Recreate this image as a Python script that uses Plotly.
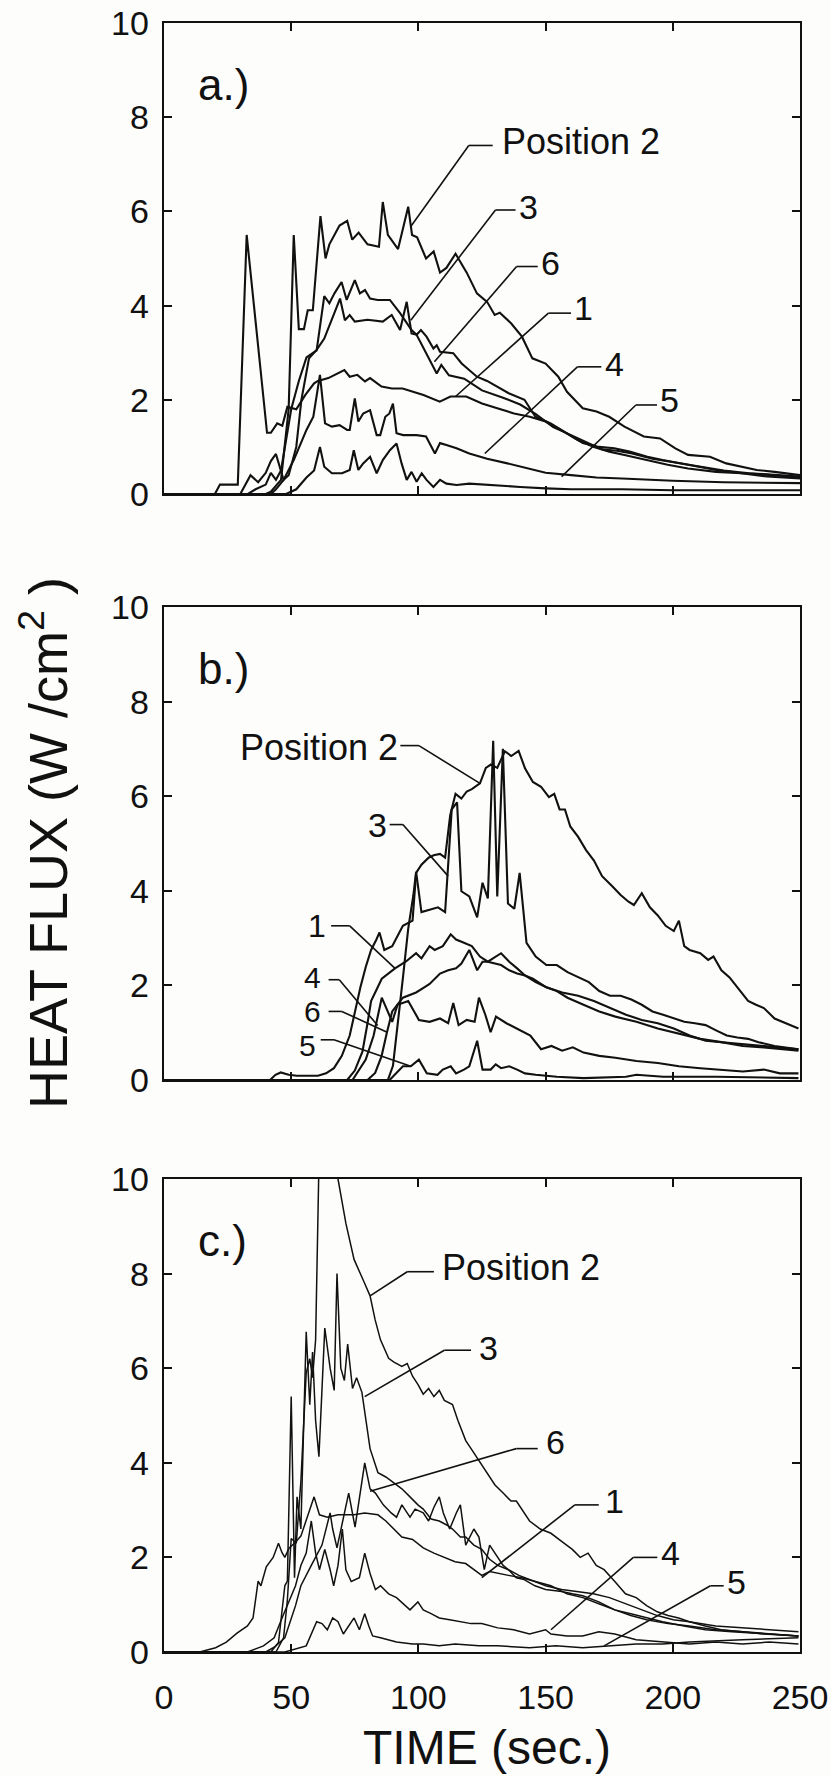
import plotly.graph_objects as go

FONT = "Liberation Sans, Arial, Helvetica, sans-serif"

# ---------------- Panel a ----------------
a_pos2_t = [0, 40, 42, 46, 49, 51, 53, 55, 56.5, 58.5, 61.5, 63.5, 65, 69, 72, 74, 76.5, 80, 84.5, 86, 88, 92, 96, 97.5, 99.5,
            103, 106, 108.5, 111, 114.6, 119, 123, 127, 130, 132, 136.5, 140.7, 144.8, 150, 155, 158.4, 164.6, 170, 175,
            181, 188.6, 195, 201, 206, 214.6, 221, 227, 233, 240, 244, 250]
a_pos2_v = [0, 0, 0.05, 0.3, 1.8, 5.5, 3.5, 3.5, 3.9, 3.9, 5.9, 5.0, 5.3, 5.7, 5.8, 5.4, 5.55, 5.3, 5.25, 6.2, 5.5, 5.2, 6.1, 5.5, 5.45,
            5.0, 5.15, 4.7, 4.8, 5.1, 4.7, 4.26, 4.08, 3.8, 3.85, 3.62, 3.34, 2.88, 2.77, 2.49, 2.17, 1.82, 1.75, 1.64,
            1.43, 1.22, 1.18, 0.97, 0.83, 0.79, 0.65, 0.58, 0.51, 0.47, 0.44, 0.4]

a_p3_t = [0, 33, 36, 40, 42, 44, 46, 48, 50, 53, 56, 60, 63, 65, 67, 69.8, 71.8, 75, 77, 79, 81, 84, 88.8, 92.8, 97.3, 99.3,
          101, 103.2, 105.9, 107.2, 108.5, 113.7, 117, 123, 127, 135.5, 141.7, 146, 152, 160.5, 164.6, 171, 177, 183, 190,
          196, 206, 217, 227, 237, 250]
a_p3_v = [0, 0, 0.1, 0.2, 0.45, 0.3, 0.5, 1.2, 1.8, 2.4, 2.9, 3.05, 4.2, 4.05, 4.26, 4.5, 4.12, 4.54, 4.26, 4.33, 4.15, 4.12, 4.12,
          3.84, 3.48, 3.38, 3.48, 3.34, 3.09, 3.16, 3.02, 2.99, 2.77, 2.49, 2.4, 2.14, 2.0, 1.64, 1.5, 1.22, 1.08, 1.0, 0.97,
          0.9, 0.79, 0.72, 0.62, 0.51, 0.44, 0.42, 0.37]

a_p6_t = [0, 30, 34, 37, 40, 42, 44, 45.5, 47, 49, 52, 54, 57, 60, 63, 69.2, 71.1, 73, 75, 80, 86, 89.5, 92.8, 95.4, 97.3, 99.3,
          103.2, 106, 107.2, 109, 112, 118, 125, 133, 140, 146, 153, 160, 166, 172, 178, 184, 192, 200, 210, 220, 230, 240, 250]
a_p6_v = [0, 0, 0.4, 0.25, 0.45, 0.7, 0.85, 0.6, 0.3, 0.4, 1.0, 2.0, 2.88, 3.06, 3.3, 4.15, 3.69, 3.8, 3.66, 3.7, 3.66, 3.8, 3.48,
          4.08, 3.41, 3.38, 2.99, 2.7, 2.56, 2.74, 2.52, 2.45, 2.2, 2.05, 1.9, 1.7, 1.42, 1.25, 1.1, 0.95, 0.92, 0.86, 0.75,
          0.68, 0.58, 0.5, 0.44, 0.4, 0.35]

a_p1_t = [0, 20, 22, 29, 32.5, 40.5, 42, 44.5, 46.5, 48.5, 52, 55.5, 59, 60.5, 64.6, 70.9, 73, 76, 79, 81, 85.5, 89.6, 93.8, 98,
          102, 108.4, 112.6, 118.8, 125, 131, 137.6, 143.8, 150, 156, 162.5, 169, 175, 181, 190, 198, 206, 217, 227, 237, 250]
a_p1_v = [0, 0, 0.2, 0.2, 5.5, 1.3, 1.3, 1.5, 1.45, 1.85, 1.8, 2.1, 2.35, 2.4, 2.46, 2.63, 2.49, 2.53, 2.39, 2.46, 2.28, 2.24, 2.24,
          2.17, 2.1, 1.96, 2.07, 2.07, 1.92, 1.82, 1.71, 1.64, 1.54, 1.36, 1.15, 1.0, 0.9, 0.83, 0.72, 0.62, 0.54, 0.47,
          0.44, 0.37, 0.33]

a_p4_t = [0, 42, 44, 47, 51, 56, 58.7, 61.3, 63.3, 66, 69, 72, 73, 75, 76.4, 78.3, 81, 83.6, 85, 87, 88.6, 90, 91.4, 94, 99.3,
          103, 106.5, 108.5, 111, 115, 120, 127, 135, 142, 150, 160, 170, 180, 190, 200, 220, 250]
a_p4_v = [0, 0, 0.1, 0.3, 0.72, 1.36, 1.64, 2.53, 1.5, 1.43, 1.46, 1.36, 1.36, 2.03, 1.54, 1.71, 1.78, 1.25, 1.25, 1.64, 1.71,
          1.92, 1.29, 1.25, 1.25, 1.22, 0.86, 1.08, 1.04, 0.97, 0.86, 0.75, 0.65, 0.55, 0.45, 0.4, 0.35, 0.33, 0.3, 0.28,
          0.25, 0.23]

a_p5_t = [0, 48, 52, 56, 59, 61.3, 63, 66, 70, 73, 74.6, 76.4, 78.3, 81, 83.6, 86, 88.8, 91.4, 93.4, 95.4, 97.3, 99.3, 101.3,
          103.2, 105.9, 108.5, 111, 115, 120, 130, 140, 150, 160, 180, 200, 250]
a_p5_v = [0, 0, 0.1, 0.35, 0.5, 1.0, 0.58, 0.44, 0.44, 0.51, 0.93, 0.51, 0.65, 0.79, 0.44, 0.72, 0.93, 1.07, 0.65, 0.3, 0.47,
          0.26, 0.44, 0.3, 0.15, 0.3, 0.22, 0.19, 0.22, 0.18, 0.15, 0.12, 0.1, 0.1, 0.08, 0.08]

# ---------------- Panel b ----------------
b_pos2_t = [0, 41.7, 43.8, 45.9, 49, 52.2, 60.5, 63.7, 66.8, 69.9, 73, 75.1, 77.2, 79.3, 81.4, 83.5, 84.7, 86.6, 89.7, 93.9,
            96, 97.7, 99.1, 101.2, 104, 106, 108.5, 110.5, 112.5, 114.6, 116.9, 119, 121, 124.2, 126.5, 128.5, 131, 134,
            136.5, 139.4, 141.9, 145, 148.2, 151.3, 153.4, 155.5, 157.6, 159.7, 162.8, 165.9, 169, 172.2, 176.3, 179.5,
            182.6, 184.7, 187.8, 191, 194.1, 197.2, 200.4, 202.4, 204.5, 206.6, 210.8, 213.9, 216, 219.1, 222.3, 225.4,
            229.6, 232.7, 235.8, 240, 244.2, 249.4]
b_pos2_v = [0, 0, 0.11, 0.16, 0.11, 0.09, 0.09, 0.14, 0.25, 0.51, 0.94, 1.45, 1.96, 2.39, 2.75, 2.97, 3.12, 2.75, 2.83, 3.26,
            3.33, 3.37, 4.38, 4.55, 4.7, 4.75, 4.78, 4.7, 5.6, 6.05, 5.95, 6.1, 6.15, 6.27, 6.6, 6.67, 6.6, 6.95,
            6.85, 6.96, 6.59, 6.3, 6.2, 5.98, 6.05, 5.72, 5.72, 5.36, 5.14, 4.86, 4.64, 4.31, 4.09, 3.91,
            3.77, 3.7, 3.95, 3.65, 3.48, 3.26, 3.15, 3.37, 2.83, 2.75, 2.68, 2.54, 2.61, 2.32, 2.17, 1.96,
            1.67, 1.59, 1.52, 1.3, 1.2, 1.09]

b_p3_t = [0, 88, 90, 92, 94, 96, 98, 99.1, 101.2, 104.4, 107.7, 110.5, 113.1, 115.2, 116.9, 120, 123.1, 125.2, 127.3, 129.4,
          131, 133.2, 135.2, 137.7, 139.8, 142.5, 146.1, 150.3, 154.4, 158.6, 162.8, 167, 171.1, 175.3, 179.5, 183.7,
          187.8, 192, 196.2, 200.4, 204.5, 208.7, 212.9, 217, 221.2, 225.4, 229.6, 233.7, 240, 249.4]
b_p3_v = [0, 0, 0.3, 1.2, 2.2, 3.2, 3.9, 4.4, 3.55, 3.6, 3.65, 3.55, 5.72, 5.87, 3.99, 3.88, 3.44, 4.17, 3.84, 7.17,
          3.88, 7.0, 3.73, 3.62, 4.38, 2.9, 2.61, 2.43, 2.43, 2.28, 2.17, 2.07, 1.88, 1.78, 1.78, 1.7,
          1.59, 1.45, 1.38, 1.3, 1.23, 1.2, 1.16, 1.05, 0.94, 0.9, 0.87, 0.8, 0.72, 0.65]

b_p1_t = [0, 72, 75, 78, 80, 81.4, 85.6, 90.8, 95, 99.1, 101.2, 104.4, 106.4, 109.6, 112.7, 114.8, 117.9, 121, 124.2, 127.3,
          132.5, 135.7, 138.8, 141.9, 145, 150.3, 154.4, 158.6, 164.9, 171.1, 177.4, 185.7, 194.1, 202.4, 210.8, 219.1,
          227.5, 235.8, 249.4]
b_p1_v = [0, 0, 0.2, 0.6, 1.2, 1.67, 2.14, 2.36, 2.5, 2.68, 2.57, 2.83, 2.75, 2.83, 3.08, 2.97, 2.9, 2.83, 2.61, 2.5,
          2.43, 2.32, 2.25, 2.21, 2.14, 1.96, 1.88, 1.74, 1.59, 1.45, 1.34, 1.23, 1.09, 0.98, 0.87, 0.8,
          0.72, 0.69, 0.62]

b_p6_t = [0, 80, 83, 85.5, 87.6, 89.7, 93.9, 99.1, 102.3, 104.4, 108.5, 111.7, 114.8, 116.9, 120, 123.1, 125.2, 127.3, 132.5,
          135.7, 138.8, 141.9, 146.1, 150.3, 156.5, 162.8, 169, 175.3, 181.6, 187.8, 194.1, 200.4, 206.6, 212.9, 219.1,
          227.5, 235.8, 249.4]
b_p6_v = [0, 0, 0.15, 0.5, 1.0, 1.45, 1.74, 1.85, 1.96, 2.03, 2.25, 2.32, 2.36, 2.46, 2.75, 2.32, 2.5, 2.5, 2.68,
          2.5, 2.36, 2.21, 2.07, 1.96, 1.85, 1.78, 1.67, 1.52, 1.38, 1.27, 1.2, 1.09, 0.94, 0.83, 0.8,
          0.76, 0.72, 0.65]

b_p4_t = [0, 74.1, 79.3, 82.4, 85.6, 89.7, 91.8, 96, 100.2, 104.4, 108.5, 111.7, 113.7, 115.8, 119, 122.1, 123.8, 126.3, 128.4,
          130.5, 134.6, 138.8, 144, 148.2, 152.3, 156.5, 160.7, 164.9, 171.1, 177.4, 185.7, 194.1, 202.4, 210.8, 219.1,
          227.5, 235.8, 242.1, 249.4]
b_p4_v = [0, 0, 0.43, 0.94, 1.74, 1.23, 1.59, 1.67, 1.27, 1.23, 1.3, 1.2, 1.63, 1.16, 1.27, 1.23, 1.74, 1.38, 1.01,
          1.34, 1.2, 1.09, 0.94, 0.65, 0.72, 0.62, 0.69, 0.58, 0.51, 0.47, 0.4, 0.36, 0.29, 0.25, 0.22,
          0.18, 0.22, 0.14, 0.14]

b_p5_t = [0, 88.7, 93.9, 97, 100.2, 103.3, 107.5, 109.6, 112.7, 114.8, 117.9, 120, 123.1, 125.2, 128.4, 130.4, 132.5, 135.7,
          138.8, 141.9, 146.1, 154.4, 164.9, 181.6, 185.7, 196.2, 217, 249.4]
b_p5_v = [0, 0, 0.29, 0.29, 0.43, 0.14, 0.11, 0.22, 0.29, 0.14, 0.22, 0.29, 0.83, 0.22, 0.22, 0.33, 0.25, 0.29,
          0.22, 0.14, 0.11, 0.07, 0.04, 0.07, 0.11, 0.07, 0.07, 0.04]

# ---------------- Panel c ----------------
c_pos2_t = [0, 44, 47, 48.5, 50, 52, 53.8, 55.9, 57.3, 58.4, 59.6, 61, 64.5, 68.4, 71.5, 74.7, 78.9, 81, 83, 85.1, 88.3, 90.4,
            93.5, 95.6, 97.7, 99.8, 101.9, 104, 106.1, 108.2, 110.2, 113.4, 115.5, 118.6, 120.7, 123.8, 127, 130.1, 133.3,
            136.4, 138.5, 140.6, 143.7, 147.9, 152.1, 156.3, 160.5, 163.6, 166.7, 169.9, 173, 177.2, 181.4, 185.6, 189.7,
            193.9, 198.1, 202.3, 206.5, 212.8, 219, 227.4, 235.8, 249.4]
c_pos2_v = [0, 0, 0.3, 1.1, 2.4, 2.3, 3.6, 5.9, 6.2, 5.8, 6.6, 10.6, 11.0, 10.0, 9.06, 8.3, 7.79, 7.53, 7.02, 6.6, 6.21, 6.13,
            6.04, 6.1, 5.83, 5.66, 5.45, 5.57, 5.4, 5.53, 5.32, 5.23, 4.9, 4.47, 4.3, 4.04, 3.79, 3.53, 3.36,
            3.19, 3.19, 3.02, 2.77, 2.6, 2.51, 2.34, 2.17, 2.0, 2.09, 1.83, 1.74, 1.49, 1.23, 1.15, 0.98,
            0.85, 0.77, 0.72, 0.64, 0.55, 0.47, 0.43, 0.38, 0.34]

c_p3_t = [0, 42, 45, 47.5, 48.5, 50, 51.3, 52.3, 53.8, 55.9, 57.3, 58.4, 59.6, 60.9, 63.2, 65.3, 66.9, 68, 69.5, 70.9, 72.2,
          74.1, 75.7, 77.8, 81, 84.1, 87.2, 90.4, 93.5, 96.7, 99.8, 101.9, 105, 108.2, 111.3, 113.4, 116.5, 118.6, 121.8,
          124.9, 128, 131.2, 135.4, 139.5, 143.7, 150, 156.3, 162.5, 168.8, 175.1, 181.4, 187.7, 193.9, 200.2, 206.5,
          216.9, 227.4, 235.8, 249.4]
c_p3_v = [0, 0, 0.2, 1.4, 1.5, 5.4, 1.57, 3.28, 2.6, 6.77, 5.23, 6.34, 4.89, 4.13, 6.85, 6.0, 5.53, 8.0, 6.0, 5.74, 6.51,
          5.57, 5.8, 5.49, 4.3, 3.79, 3.7, 3.57, 3.45, 3.28, 3.11, 3.02, 2.81, 2.77, 2.68, 2.6, 2.43, 2.43, 2.26,
          2.17, 1.96, 1.83, 1.74, 1.62, 1.53, 1.4, 1.32, 1.28, 1.23, 1.15, 1.02, 0.89, 0.77, 0.68, 0.64,
          0.55, 0.51, 0.47, 0.43]

c_p6_t = [0, 40, 43.3, 47.5, 51.7, 53.8, 57.9, 62.1, 65.3, 66.3, 68, 70.5, 72.6, 75.1, 76.8, 78.9, 81, 83.1, 86.2, 89.3, 91.4,
          93.5, 96.7, 98.7, 101.9, 104, 106.1, 108.2, 109.8, 112.3, 114.9, 116.5, 118.6, 121.8, 123.8, 125.9, 128, 130.1,
          133.3, 135.4, 138.5, 141.6, 145.8, 150, 156.3, 160.5, 164.6, 170.9, 177.2, 183.5, 189.7, 198.1, 206.5, 216.9,
          227.4, 249.4]
c_p6_v = [0, 0, 0.1, 0.3, 0.98, 1.4, 1.83, 2.26, 2.94, 2.6, 2.2, 2.85, 3.36, 2.64, 3.28, 4.0, 3.45, 3.36, 3.11, 2.94, 2.85,
          3.11, 2.85, 3.02, 2.94, 2.77, 3.06, 3.28, 2.94, 2.6, 2.94, 3.11, 2.26, 2.6, 2.43, 1.74, 2.26, 2.09,
          1.83, 1.74, 1.57, 1.53, 1.4, 1.32, 1.28, 1.23, 1.19, 1.06, 0.89, 0.77, 0.68, 0.6, 0.55, 0.47,
          0.43, 0.34]

c_p1_t = [0, 14, 20.3, 24.5, 28.7, 32.8, 35, 37, 38.1, 40.2, 42.9, 45, 46.4, 47.5, 49.2, 51.3, 53.8, 56.9, 59, 61.1, 64.2,
          68.4, 72.6, 74.7, 78.9, 84.1, 87.2, 90.4, 93.5, 97.7, 101.9, 106.1, 110.2, 114.4, 118.6, 124.9, 128, 131.2,
          135.4, 140.6, 145.8, 152.1, 158.4, 164.6, 170.9, 177.2, 183.5, 189.7, 196, 204.4, 212.8, 223.2, 235.8, 249.4]
c_p1_v = [0, 0, 0.09, 0.21, 0.4, 0.55, 0.72, 1.5, 1.4, 1.8, 2.0, 2.3, 2.1, 2.0, 2.2, 2.3, 2.45, 2.94, 3.28, 2.9, 2.85,
          2.9, 2.9, 2.9, 2.94, 2.9, 2.77, 2.6, 2.43, 2.38, 2.2, 2.09, 2.0, 1.91, 1.87, 1.62, 1.7, 1.66,
          1.62, 1.57, 1.49, 1.4, 1.23, 1.15, 1.02, 0.89, 0.81, 0.72, 0.64, 0.55, 0.47, 0.43, 0.38, 0.34]

c_p4_t = [0, 32.8, 39.1, 43.3, 46.4, 49.6, 51.7, 53.8, 55.9, 57.9, 59.6, 61.1, 63.2, 65.3, 66.7, 68.4, 70.1, 71.5, 73.6, 76.8,
          78.9, 81, 83.1, 85.1, 88.3, 91.4, 94.6, 96.7, 99.8, 101.9, 105, 108.2, 112.3, 116.5, 120.7, 124.9, 131.2, 137.4,
          143.7, 150, 152.1, 158.4, 164.6, 170.9, 177.2, 185.6, 196, 206.5, 216.9, 227.4, 237.9, 249.4]
c_p4_v = [0, 0, 0.13, 0.3, 0.72, 1.15, 1.4, 1.83, 2.09, 2.77, 2.09, 1.74, 2.17, 1.74, 1.4, 1.83, 2.6, 1.74, 1.49, 1.57,
          2.09, 1.66, 1.32, 1.4, 1.23, 1.15, 0.98, 0.89, 1.06, 0.89, 0.81, 0.72, 0.68, 0.64, 0.6, 0.6, 0.51, 0.47,
          0.38, 0.47, 0.38, 0.34, 0.34, 0.43, 0.38, 0.26, 0.21, 0.17, 0.21, 0.17, 0.21, 0.17]

c_p5_t = [0, 47.5, 55.9, 60, 62.1, 64.2, 66.3, 68.4, 70.5, 72.6, 74.7, 76.8, 78.9, 80.5, 82, 85.1, 91.4, 97.7, 101.9, 108.2,
          114.4, 123.8, 131.2, 143.7, 154, 164.6, 175.1, 185.6, 196, 206.5, 227.4, 249.4]
c_p5_v = [0, 0, 0.13, 0.64, 0.6, 0.47, 0.72, 0.64, 0.38, 0.55, 0.72, 0.47, 0.81, 0.55, 0.34, 0.3, 0.21, 0.17, 0.17, 0.13,
          0.17, 0.13, 0.13, 0.09, 0.13, 0.09, 0.13, 0.17, 0.17, 0.21, 0.26, 0.3]

# ---------------- Labels: (text, text_x, text_y, anchor, dash_x0, dash_x1, dash_y, end_x, end_y, font) ----------------
a_labels = [
    ("Position 2", 132.5, 7.48, "left", 119.8, 129.2, 7.40, 97.0, 5.68, 36),
    ("3", 139.0, 6.10, "left", 130.3, 138.2, 6.03, 97.0, 3.69, 34),
    ("6", 147.8, 4.90, "left", 138.6, 146.9, 4.83, 106.3, 2.81, 34),
    ("1", 160.8, 3.94, "left", 151.1, 160.0, 3.84, 114.6, 2.07, 34),
    ("4", 172.8, 2.77, "left", 162.5, 171.9, 2.70, 126.1, 0.86, 34),
    ("5", 194.6, 2.00, "left", 185.5, 193.8, 1.89, 156.3, 0.37, 34),
]
b_labels = [
    ("Position 2", 92.4, 7.03, "right", 92.9, 100.2, 7.07, 124.2, 6.27, 36),
    ("3", 88.0, 5.40, "right", 88.7, 93.9, 5.40, 111.7, 4.31, 34),
    ("1", 64.0, 3.26, "right", 65.7, 73.0, 3.26, 90.8, 2.36, 32),
    ("4", 62.0, 2.17, "right", 64.7, 68.9, 2.12, 84.0, 1.15, 30),
    ("6", 62.0, 1.45, "right", 64.7, 69.9, 1.45, 87.7, 1.01, 30),
    ("5", 60.0, 0.73, "right", 61.6, 66.8, 0.85, 97.0, 0.29, 30),
]
c_labels = [
    ("Position 2", 109.0, 8.13, "left", 95.6, 106.1, 8.04, 81.0, 7.53, 36),
    ("3", 123.6, 6.43, "left", 110.2, 120.7, 6.38, 78.9, 5.40, 34),
    ("6", 149.8, 4.43, "left", 138.5, 146.9, 4.30, 81.0, 3.40, 34),
    ("1", 172.8, 3.19, "left", 161.5, 170.9, 3.11, 124.9, 1.57, 34),
    ("4", 194.8, 2.09, "left", 184.5, 193.9, 2.00, 152.1, 0.47, 34),
    ("5", 220.8, 1.49, "left", 214.8, 220.0, 1.40, 173.0, 0.13, 34),
]
panel_letters = ["a.)", "b.)", "c.)"]
x_ticks = [0, 50, 100, 150, 200, 250]
y_ticks = [0, 2, 4, 6, 8, 10]

panels = [
    ("x", "y", [(a_pos2_t, a_pos2_v), (a_p3_t, a_p3_v), (a_p6_t, a_p6_v), (a_p1_t, a_p1_v), (a_p4_t, a_p4_v), (a_p5_t, a_p5_v)], a_labels, 2.1),
    ("x2", "y2", [(b_pos2_t, b_pos2_v), (b_p3_t, b_p3_v), (b_p6_t, b_p6_v), (b_p1_t, b_p1_v), (b_p4_t, b_p4_v), (b_p5_t, b_p5_v)], b_labels, 2.1),
    ("x3", "y3", [(c_pos2_t, c_pos2_v), (c_p3_t, c_p3_v), (c_p6_t, c_p6_v), (c_p1_t, c_p1_v), (c_p4_t, c_p4_v), (c_p5_t, c_p5_v)], c_labels, 1.5),
]

W, H = 831, 1776
x_dom = [164 / W, 800 / W]
y_doms = [[1 - 494 / H, 1 - 23 / H], [1 - 1080 / H, 1 - 607 / H], [1 - 1652 / H, 1 - 1179 / H]]
INK = "#111111"

fig = go.Figure()
annotations = []
shapes = []
for i, (xa, ya, series, labels, lw) in enumerate(panels):
    for t, v in series:
        fig.add_trace(go.Scatter(x=t, y=v, mode="lines", xaxis=xa, yaxis=ya,
                                 line=dict(color=INK, width=lw), showlegend=False, hoverinfo="skip"))
    for (txt, tx, ty, anc, dx0, dx1, dy, ex, ey, fs) in labels:
        annotations.append(dict(text=txt, x=tx, y=ty, xref=xa, yref=ya, xanchor=anc, yanchor="middle",
                                showarrow=False, borderpad=0, font=dict(family=FONT, size=fs, color=INK)))
        shapes.append(dict(type="line", xref=xa, yref=ya, x0=dx0, x1=dx1, y0=dy, y1=dy,
                           line=dict(color=INK, width=1.6)))
        sx = dx0 if anc == "left" else dx1
        shapes.append(dict(type="line", xref=xa, yref=ya, x0=sx, x1=ex, y0=dy, y1=ey,
                           line=dict(color=INK, width=1.6)))
    annotations.append(dict(text=panel_letters[i], x=12.5, y=8.7, xref=xa, yref=ya, xanchor="left", yanchor="middle",
                            showarrow=False, font=dict(family=FONT, size=44, color=INK)))

axis_common = dict(showline=True, linecolor=INK, linewidth=2.4, mirror="ticks", ticks="inside",
                   ticklen=8, tickwidth=2, tickcolor=INK, showgrid=False, zeroline=False, automargin=False,
                   tickfont=dict(family=FONT, size=34, color=INK))

layout = dict(width=W, height=H, margin=dict(l=0, r=0, t=0, b=0, autoexpand=False),
              paper_bgcolor="#fdfdfb", plot_bgcolor="#fdfdfb",
              annotations=annotations, shapes=shapes)
for i in range(3):
    sfx = "" if i == 0 else str(i + 1)
    layout["xaxis" + sfx] = dict(axis_common, domain=x_dom, range=[0, 250], tickvals=x_ticks,
                                 showticklabels=(i == 2), ticklabelstandoff=14,
                                 anchor="y" + sfx)
    layout["yaxis" + sfx] = dict(axis_common, domain=y_doms[i], range=[0, 10], tickvals=y_ticks,
                                 ticklabelstandoff=6, anchor="x" + sfx)

annotations.append(dict(text="TIME (sec.)", x=487 / W, y=1 - 1747 / H, xref="paper", yref="paper",
                        xanchor="center", yanchor="middle", showarrow=False,
                        font=dict(family=FONT, size=48, color=INK)))
annotations.append(dict(text="HEAT FLUX (W /cm<sup>2</sup> )", x=44 / W, y=1 - 843 / H, xref="paper", yref="paper",
                        xanchor="center", yanchor="middle", textangle=-90, showarrow=False,
                        font=dict(family=FONT, size=54, color=INK)))

fig.update_layout(**layout)
fig.write_html("out.html", config={"displayModeBar": False, "staticPlot": True},
               post_script="document.body.style.margin='0';document.body.style.padding='0';"
                           "document.body.style.overflow='hidden';")
